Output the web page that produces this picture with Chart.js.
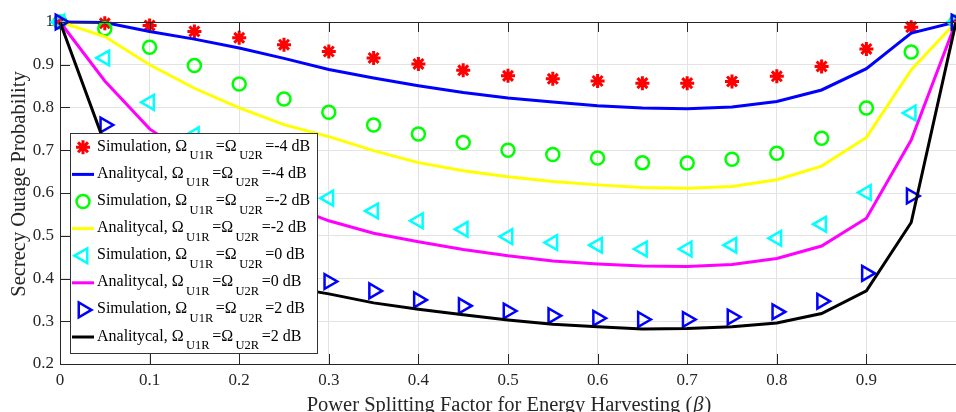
<!DOCTYPE html>
<html>
<head>
<meta charset="utf-8">
<script src="https://cdn.jsdelivr.net/npm/chart.js@4/dist/chart.umd.min.js"></script>
<style>
  html, body { margin: 0; padding: 0; background: #fff; overflow: hidden; }
  canvas { display: block; }
</style>
</head>
<body>
<canvas id="chart" width="956" height="412"></canvas>
<script>
var FONT = "'Liberation Serif', 'Times New Roman', serif";

// beta values (x axis)
var beta = [0, 0.05, 0.1, 0.15, 0.2, 0.25, 0.3, 0.35, 0.4, 0.45, 0.5,
            0.55, 0.6, 0.65, 0.7, 0.75, 0.8, 0.85, 0.9, 0.95, 1];

// -4 dB
var simM4 = [1.0, 0.997, 0.992, 0.978, 0.963, 0.947, 0.931, 0.916, 0.902, 0.887, 0.874,
             0.867, 0.862, 0.857, 0.857, 0.861, 0.873, 0.896, 0.937, 0.988, 1.0];
var anaM4 = [1.0, 0.999, 0.978, 0.960, 0.939, 0.915, 0.889, 0.869, 0.851, 0.835, 0.822,
             0.813, 0.804, 0.799, 0.797, 0.801, 0.814, 0.841, 0.891, 0.974, 1.0];
// -2 dB
var simM2 = [1.0, 0.984, 0.941, 0.898, 0.855, 0.820, 0.789, 0.759, 0.738, 0.718, 0.700,
             0.690, 0.682, 0.671, 0.670, 0.679, 0.693, 0.728, 0.799, 0.930, 1.0];
var anaM2 = [1.0, 0.966, 0.900, 0.845, 0.799, 0.760, 0.732, 0.699, 0.671, 0.652, 0.638,
             0.627, 0.619, 0.613, 0.611, 0.615, 0.631, 0.663, 0.730, 0.888, 1.0];
// 0 dB
var simZ  = [1.0, 0.916, 0.812, 0.736, 0.680, 0.630, 0.588, 0.558, 0.535, 0.515, 0.498,
             0.484, 0.478, 0.469, 0.469, 0.478, 0.494, 0.527, 0.601, 0.787, 1.0];
var anaZ  = [1.0, 0.862, 0.750, 0.680, 0.625, 0.575, 0.535, 0.506, 0.486, 0.468, 0.453,
             0.441, 0.434, 0.429, 0.428, 0.433, 0.447, 0.476, 0.541, 0.724, 1.0];
// 2 dB
var simP2 = [1.0, 0.759, 0.620, 0.530, 0.470, 0.425, 0.393, 0.371, 0.350, 0.336, 0.324,
             0.313, 0.307, 0.304, 0.304, 0.310, 0.322, 0.347, 0.412, 0.593, 1.0];
var anaP2 = [1.0, 0.715, 0.560, 0.460, 0.410, 0.382, 0.364, 0.343, 0.328, 0.315, 0.303,
             0.293, 0.287, 0.282, 0.283, 0.287, 0.296, 0.318, 0.371, 0.531, 1.0];

var xTicks = [0, 0.1, 0.2, 0.3, 0.4, 0.5, 0.6, 0.7, 0.8, 0.9, 1];
var yTicks = [0.2, 0.3, 0.4, 0.5, 0.6, 0.7, 0.8, 0.9, 1];

var kinds = ['Simulation', 'Analitycal', 'Simulation', 'Analitycal',
             'Simulation', 'Analitycal', 'Simulation', 'Analitycal'];
var gains = ['-4', '-4', '-2', '-2', '0', '0', '2', '2'];
var series = [simM4, anaM4, simM2, anaM2, simZ, anaZ, simP2, anaP2];
var colors = ['#ff0000', '#0000ff', '#00ff00', '#ffff00', '#00ffff', '#ff00ff', '#0000ff', '#000000'];
var markers = ['star', null, 'circle', null, 'triangle', null, 'triangle', null];
var rotations = [0, 0, 0, 0, -90, 0, 90, 0];

function pts(vals)
{
    return vals.map(function(v, i) { return { x: beta[i], y: v }; });
}

var datasets = series.map(function(vals, i)
{
    var sim = markers[i] !== null;
    return {
        label: kinds[i] + ' ' + gains[i] + ' dB',
        data: pts(vals),
        showLine: !sim,
        borderColor: colors[i],
        backgroundColor: 'rgba(0,0,0,0)',
        borderWidth: sim ? 2.5 : 3,
        pointStyle: sim ? markers[i] : 'circle',
        pointRotation: rotations[i],
        pointRadius: sim ? (markers[i] === 'triangle' ? 8.5 : (markers[i] === 'star' ? 7 : 6.5)) : 0,
        pointBorderWidth: markers[i] === 'star' ? 3 : 2.5,
        tension: 0,
        clip: false,
        order: 10 - i
    };
});

// inward ticks, top border, titles and legend
var extras = {
    id: 'extras',
    afterDraw: function(chart)
    {
        var ctx = chart.ctx, a = chart.chartArea;
        var xs = chart.scales.x, ys = chart.scales.y;
        ctx.save();
        ctx.strokeStyle = '#262626';
        ctx.lineWidth = 1;
        ctx.beginPath();
        ctx.moveTo(a.left, a.top + 0.5);
        ctx.lineTo(a.right, a.top + 0.5);
        xTicks.forEach(function(v)
        {
            var px = Math.round(xs.getPixelForValue(v)) + 0.5;
            ctx.moveTo(px, a.bottom); ctx.lineTo(px, a.bottom - 10);
            ctx.moveTo(px, a.top); ctx.lineTo(px, a.top + 10);
        });
        yTicks.forEach(function(v)
        {
            var py = Math.round(ys.getPixelForValue(v)) + 0.5;
            ctx.moveTo(a.left, py); ctx.lineTo(a.left + 10, py);
        });
        ctx.stroke();

        // axis titles
        var tf = '20.5px ' + FONT;
        ctx.fillStyle = '#262626';
        ctx.textBaseline = 'alphabetic';
        var t1 = 'Power Splitting Factor for Energy Harvesting (';
        ctx.font = tf;
        var w1 = ctx.measureText(t1).width;
        ctx.font = 'italic ' + tf;
        var w2 = ctx.measureText('\u03B2').width;
        ctx.font = tf;
        var w3 = ctx.measureText(')').width;
        var x0 = (a.left + a.right) / 2 - (w1 + w2 + w3) / 2;
        ctx.textAlign = 'left';
        ctx.fillText(t1, x0, 411);
        ctx.font = 'italic ' + tf;
        ctx.fillText('\u03B2', x0 + w1 + 1, 411);
        ctx.font = tf;
        ctx.fillText(')', x0 + w1 + w2 + 2, 411);

        ctx.save();
        ctx.translate(25, 184);
        ctx.rotate(-Math.PI / 2);
        ctx.textAlign = 'center';
        ctx.fillText('Secrecy Outage Probability', 0, 0);
        ctx.restore();

        // legend
        ctx.fillStyle = '#ffffff';
        ctx.fillRect(70.5, 133.5, 247, 220);
        ctx.strokeStyle = '#333333';
        ctx.strokeRect(70.5, 133.5, 247, 220);
        for (var i = 0; i < series.length; i++)
        {
            var y = 147.3 + 27.1 * i;
            ctx.strokeStyle = colors[i];
            if (markers[i] === null)
            {
                ctx.lineWidth = 3;
                ctx.beginPath();
                ctx.moveTo(72, y); ctx.lineTo(94, y);
                ctx.stroke();
            }
            else
            {
                ctx.fillStyle = 'rgba(0,0,0,0)';
                ctx.lineWidth = datasets[i].pointBorderWidth;
                Chart.helpers.drawPoint(ctx, {
                    pointStyle: markers[i],
                    rotation: rotations[i],
                    radius: datasets[i].pointRadius,
                    borderWidth: datasets[i].pointBorderWidth
                }, 83, y);
            }
            var parts = [
                [kinds[i] + ', \u03A9', 0], ['U1R', 1], ['=\u03A9', 0], ['U2R', 1], ['=' + gains[i] + ' dB', 0]
            ];
            var tx = 97;
            ctx.fillStyle = '#000000';
            ctx.textAlign = 'left';
            parts.forEach(function(p, k)
            {
                ctx.font = (p[1] ? '12.5px ' : '16px ') + FONT;
                ctx.fillText(p[0], tx, y + (p[1] ? 12 : 3.5));
                tx += ctx.measureText(p[0]).width + (k < 4 ? 2.5 : 0);
            });
        }
        ctx.restore();
    }
};

var container = document.getElementById('chart').getContext('2d');
var mychart = new Chart(container, {
    type: 'scatter',
    data: { datasets: datasets },
    options: {
        responsive: false,
        animation: false,
        events: [],
        layout: { autoPadding: false, padding: { left: 0, top: 22, right: 0, bottom: 0 } },
        plugins: { legend: { display: false }, tooltip: { enabled: false } },
        scales: {
            x: {
                type: 'linear', min: 0, max: 1,
                afterFit: function(s) { s.height = 48; s.paddingRight = 0; s.paddingLeft = 0; },
                afterBuildTicks: function(s) { s.ticks = xTicks.map(function(v) { return { value: v }; }); },
                grid: { color: '#e3e3e3', drawTicks: false },
                border: { color: '#262626', width: 1 },
                ticks: {
                    padding: 6, color: '#262626', maxRotation: 0,
                    font: { family: FONT, size: 17 },
                    callback: function(v) { return v === 1 ? '' : (v === 0 ? '0' : v.toFixed(1)); }
                }
            },
            y: {
                type: 'linear', min: 0.2, max: 1,
                afterFit: function(s) { s.width = 60; },
                afterBuildTicks: function(s) { s.ticks = yTicks.map(function(v) { return { value: v }; }); },
                grid: { color: '#e3e3e3', drawTicks: false },
                border: { color: '#262626', width: 1 },
                ticks: {
                    padding: 6, color: '#262626',
                    font: { family: FONT, size: 17 },
                    callback: function(v) { return v === 1 ? '1' : v.toFixed(1); }
                }
            }
        }
    },
    plugins: [extras]
});
</script>
</body>
</html>
